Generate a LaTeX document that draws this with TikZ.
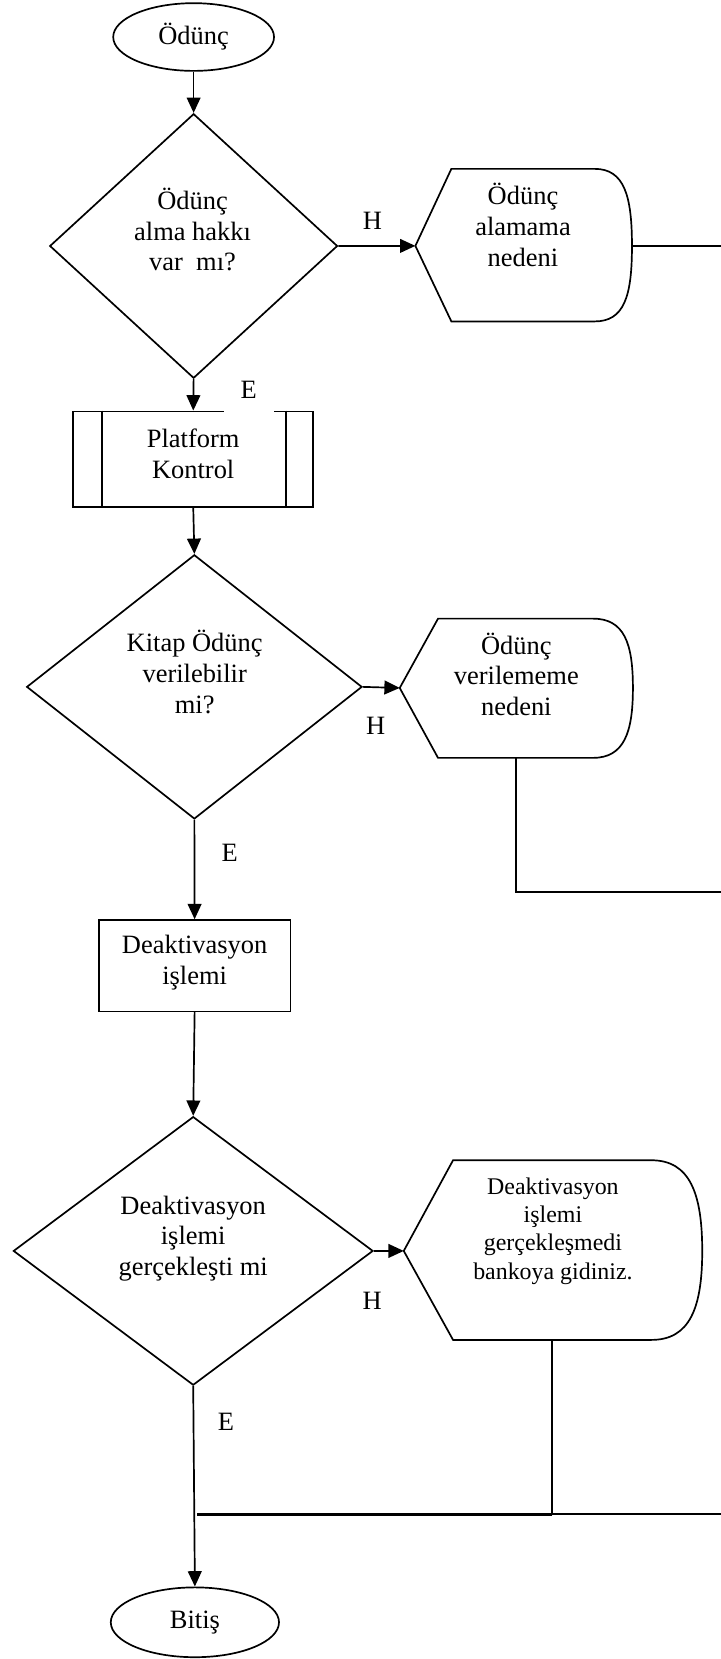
\documentclass[tikz,border=0pt]{standalone}
\usepackage{fontspec}
\setmainfont{Liberation Serif}
\usetikzlibrary{arrows.meta,shapes.geometric}

\begin{document}
\begin{tikzpicture}[x=1pt,y=-1pt,line width=1.6pt,
  conn/.style={-{Triangle[length=14.5pt,width=13pt]}},
  plain/.style={},
  joinline/.style={line width=2.8pt},
  txt/.style={align=center,font=\fontsize{25}{29}\selectfont,inner sep=0pt},
  smalltxt/.style={align=center,font=\fontsize{22.6}{26.6}\selectfont,inner sep=0pt},
  lbl/.style={font=\fontsize{25}{29}\selectfont,inner sep=0pt},
  terminal/.style={draw,ellipse,inner sep=0pt,font=\fontsize{25}{29}\selectfont},
  decision/.style={draw,diamond,inner sep=0pt},
  process/.style={draw,rectangle,inner sep=0pt},
]
\useasboundingbox (0,0) rectangle (681,1568);

% start / end terminals
\node[terminal,minimum width=152pt,minimum height=64pt] (start) at (183,35) {Ödünç};
\node[terminal,minimum width=159pt,minimum height=66pt] (end) at (184.2,1533.3) {Bitiş};

% first decision
\node[decision,minimum width=272pt,minimum height=250pt] (d1) at (183,232.5) {};
\node[txt] (d1t) at (182,217) {Ödünç\\alma hakkı\\var\ \ mı?};

% display: Ödünç alamama nedeni
\coordinate (o1tip) at (392.6,232.4);
\coordinate (o1right) at (597.3,232.4);
\coordinate (o1out) at (681,232.4);
\draw (o1tip) -- (426.6,159.6) -- (562,159.6)
  .. controls (590,159.6) and (597.3,185) .. (o1right)
  .. controls (597.3,280) and (590,303.8) .. (562,303.8)
  -- (426.6,303.8) -- cycle;
\node[txt] (o1t) at (494.3,212.7) {Ödünç\\alamama\\nedeni};

% predefined process: Platform Kontrol
\node[process,minimum width=226.7pt,minimum height=90.4pt] (pk) at (182.65,434) {};
\draw ([xshift=27.7pt]pk.north west) -- ([xshift=27.7pt]pk.south west);
\draw ([xshift=-26.8pt]pk.north east) -- ([xshift=-26.8pt]pk.south east);
\node[txt] (pkt) at (182.6,429.2) {Platform\\Kontrol};

% second decision
\node[decision,minimum width=317pt,minimum height=249.7pt] (d2) at (183.7,649.2) {};
\node[txt] (d2t) at (184,635) {Kitap Ödünç\\verilebilir\\mi?};

% display: Ödünç verilememe nedeni
\coordinate (o2tip) at (377.8,650.2);
\coordinate (o2right) at (598.2,650.2);
\coordinate (o2bot) at (488,716.3);
\coordinate (o2out) at (681,843);
\draw (o2tip) -- (414,584.7) -- (560.4,584.7)
  .. controls (590,584.7) and (598.2,608) .. (o2right)
  .. controls (598.2,692) and (590,716.3) .. (560.4,716.3)
  -- (414,716.3) -- cycle;
\node[txt] (o2t) at (488,637.4) {Ödünç\\verilememe\\nedeni};

% process: Deaktivasyon işlemi
\node[process,minimum width=181.1pt,minimum height=86.3pt] (deak) at (183.95,912.75) {};
\node[txt] (deakt) at (184,909.7) {Deaktivasyon\\işlemi};

% third decision
\node[decision,minimum width=340pt,minimum height=253.8pt] (d3) at (182.6,1182.3) {};
\node[txt] (d3t) at (182.6,1170.7) {Deaktivasyon\\işlemi\\gerçekleşti mi};

% display: Deaktivasyon işlemi gerçekleşmedi
\coordinate (o3tip) at (381.6,1182.3);
\coordinate (o3right) at (663.7,1182.3);
\coordinate (o3bot) at (522,1266.4);
\coordinate (o3join) at (522,1431);
\coordinate (o3out) at (681,1431);
\coordinate (mainjoin) at (185.8,1431);
\draw (o3tip) -- (428.2,1096.6) -- (615.6,1096.6)
  .. controls (652,1096.6) and (663.7,1128) .. (o3right)
  .. controls (663.7,1236) and (652,1266.4) .. (615.6,1266.4)
  -- (428.2,1266.4) -- cycle;
\node[smalltxt] (o3t) at (522.6,1163.6) {Deaktivasyon\\işlemi\\gerçekleşmedi\\bankoya gidiniz.};

% branch labels
\node[lbl] (h1) at (352,209) {H};
\node[lbl,fill=white,minimum width=47pt,minimum height=44pt] (e1) at (235,368.4) {E};
\node[lbl] (h2) at (355,686.4) {H};
\node[lbl] (e2) at (217,806) {E};
\node[lbl] (h3) at (351.8,1229.5) {H};
\node[lbl] (e3) at (213.5,1343.8) {E};

% connectors
\draw[conn] (start.south) -- (d1.north);
\draw[conn] (d1.east) -- (o1tip);
\draw[plain] (o1right) -- (o1out);
\draw[conn] (d1.south) -- (pk.north);
\draw[conn] (pk.south) -- (d2.north);
\draw[conn] (d2.east) -- (o2tip);
\draw[plain] (o2bot) |- (o2out);
\draw[conn] (d2.south) -- (deak.north);
\draw[conn] (deak.south) -- (d3.north);
\draw[conn] (d3.east) -- (o3tip);
\draw[plain] (o3bot) -- (o3join);
\draw[joinline] (o3join) -- (mainjoin);
\draw[plain] (o3out) -- (o3join);
\draw[conn] (d3.south) -- (end.north);
\end{tikzpicture}
\end{document}
